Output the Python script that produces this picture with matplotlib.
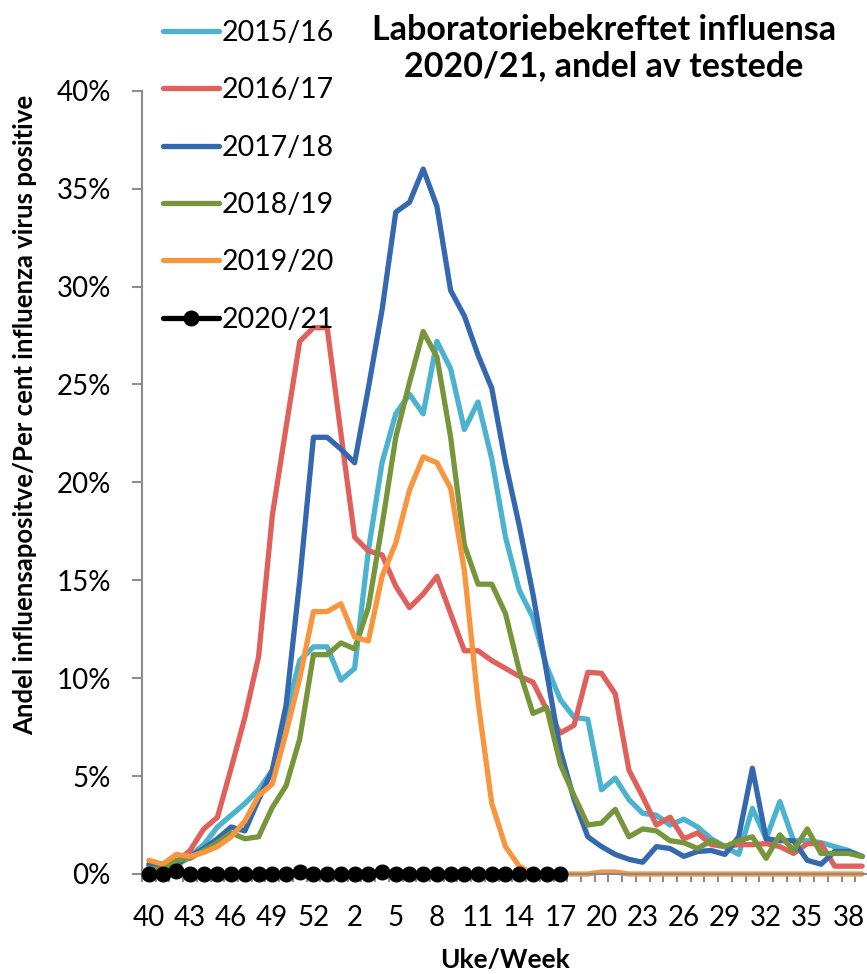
import matplotlib
matplotlib.use("Agg")
import matplotlib.pyplot as plt
from matplotlib.ticker import FixedLocator, FuncFormatter

weeks = list(range(40, 54)) + list(range(1, 40))
tick_weeks = [40, 43, 46, 49, 52, 2, 5, 8, 11, 14, 17, 20, 23, 26, 29, 32, 35, 38]
season_labels = ["2015/16", "2016/17", "2017/18", "2018/19", "2019/20", "2020/21"]
season_colors = ["#4BB2CF", "#E0605C", "#3469B0", "#77963B", "#F7963F", "#000000"]

s2015 = [0.4, 0.3, 0.4, 0.9, 1.5, 2.4, 3.0, 3.6, 4.3, 5.3, 8.2, 10.9, 11.6, 11.6, 9.9, 10.5,
         16.5, 21.0, 23.5, 24.5, 23.5, 27.2, 25.8, 22.7, 24.1, 21.2, 17.2, 14.5, 13.1, 10.6,
         8.9, 8.0, 7.9, 4.3, 4.9, 3.8, 3.1, 3.0, 2.5, 2.8, 2.4, 1.8, 1.4, 1.0, 3.35, 1.8,
         3.7, 1.7, 1.7, 1.6, 1.4, 1.2, 0.9]
s2016 = [0.3, 0.3, 0.6, 1.2, 2.3, 2.9, 5.4, 8.0, 11.1, 18.3, 22.8, 27.2, 27.9, 27.9, 22.5,
         17.2, 16.5, 16.3, 14.7, 13.6, 14.3, 15.2, 13.3, 11.4, 11.4, 10.9, 10.5, 10.1, 9.8,
         8.4, 7.2, 7.6, 10.3, 10.25, 9.2, 5.3, 3.95, 2.5, 2.9, 1.8, 2.1, 1.5, 1.4, 1.5, 1.5,
         1.55, 1.4, 1.05, 1.55, 1.55, 0.4, 0.4, 0.4]
s2017 = [0.5, 0.5, 0.5, 0.9, 1.3, 1.8, 2.4, 2.2, 3.8, 5.3, 8.6, 15.0, 22.3, 22.3, 21.7, 21.0,
         24.8, 28.8, 33.8, 34.3, 36.0, 34.1, 29.8, 28.5, 26.5, 24.8, 21.0, 17.8, 14.3, 10.3,
         6.3, 3.8, 1.9, 1.4, 1.0, 0.75, 0.6, 1.4, 1.3, 0.9, 1.15, 1.2, 1.0, 1.9, 5.4, 1.8,
         1.7, 1.7, 0.7, 0.5, 1.15, 1.15, 0.9]
s2018 = [0.3, 0.2, 0.7, 0.8, 1.2, 1.6, 2.1, 1.8, 1.9, 3.4, 4.5, 6.9, 11.2, 11.2, 11.8, 11.5,
         13.6, 17.8, 22.3, 25.1, 27.7, 26.4, 22.3, 16.8, 14.8, 14.8, 13.3, 10.4, 8.2, 8.5,
         5.6, 4.0, 2.5, 2.6, 3.3, 1.9, 2.3, 2.2, 1.7, 1.6, 1.3, 1.7, 1.4, 1.7, 1.9, 0.8,
         2.0, 1.2, 2.3, 1.05, 1.05, 1.05, 0.9]
s2019 = [0.7, 0.5, 1.0, 0.9, 1.1, 1.4, 1.9, 2.7, 4.0, 4.6, 7.2, 10.0, 13.4, 13.4, 13.8, 12.1,
         11.9, 15.2, 16.9, 19.6, 21.3, 21.0, 19.7, 15.5, 8.8, 3.6, 1.4, 0.4, 0.0, 0.0,
         0.0, 0.0, 0.0, 0.1, 0.1, 0.0, 0.0, 0.0, 0.0, 0.0, 0.0, 0.0, 0.0, 0.0, 0.0, 0.0,
         0.0, 0.0, 0.0, 0.0, 0.0, 0.0, 0.0]
s2020 = [0.0, 0.0, 0.15, 0.0, 0.0, 0.0, 0.0, 0.0, 0.0, 0.0, 0.0, 0.1, 0.0, 0.0, 0.0, 0.0,
         0.0, 0.1, 0.0, 0.0, 0.0, 0.0, 0.0, 0.0, 0.0, 0.0, 0.0, 0.0, 0.0, 0.0, 0.0]

series = [s2015, s2016, s2017, s2018, s2019, s2020]

W, H = 867, 974
fig = plt.figure(figsize=(W / 100, H / 100), dpi=100)
ax = fig.add_axes([142 / W, 100 / H, (869 - 142) / W, (874 - 90.7) / H])

gray = "#8C8C8C"
handles = []
for vals, lab, col in zip(series, season_labels, season_colors):
    x = list(range(len(vals)))
    if lab == "2020/21":
        h, = ax.plot(x, vals, color=col, lw=3.8, marker="o", ms=10.5, clip_on=False,
                     solid_capstyle="round", zorder=5, label=lab)
    else:
        h, = ax.plot(x, vals, color=col, lw=3.8, clip_on=False, solid_capstyle="round",
                     solid_joinstyle="round", label=lab)
    handles.append(h)

ax.set_xlim(-0.5, len(weeks) - 0.5)
ax.set_ylim(0, 40)

tick_idx = [weeks.index(w) for w in tick_weeks]
ax.xaxis.set_major_locator(FixedLocator(tick_idx))
ax.xaxis.set_major_formatter(FuncFormatter(lambda v, p: str(weeks[int(round(v))])))
ax.xaxis.set_minor_locator(FixedLocator([i + 0.5 for i in range(-1, len(weeks))]))
ax.tick_params(axis="x", which="minor", length=6, width=1.5, color=gray, direction="out")
ax.tick_params(axis="x", which="major", length=0, pad=22.5, labelsize=20,
               labelfontfamily="Lato")

ax.yaxis.set_major_locator(FixedLocator(range(0, 41, 5)))
ax.yaxis.set_major_formatter(FuncFormatter(lambda v, p: f"{int(v)}%"))
ax.tick_params(axis="y", length=7.5, width=1.5, color=gray, direction="out", pad=15,
               labelsize=20, labelfontfamily="Lato")

for sp in ["top", "right"]:
    ax.spines[sp].set_visible(False)
for sp in ["left", "bottom"]:
    ax.spines[sp].set_color(gray)
    ax.spines[sp].set_linewidth(1.5)

fig.text(604 / W, 1 - 48 / H, "Laboratoriebekreftet influensa\n2020/21, andel av testede",
         ha="center", va="center", fontsize=24.5, fontweight="bold", family="Lato",
         linespacing=1.12)

fig.text(25 / W, 1 - 415 / H, "Andel influensapositve/Per cent influenza virus positive",
         rotation=90, ha="center", va="center", fontsize=18.5, fontweight="bold", family="Lato")
fig.text(505 / W, 1 - 960 / H, "Uke/Week", ha="center", va="center", fontsize=19,
         fontweight="bold", family="Lato")

leg = fig.legend(handles=handles, labels=season_labels, loc="upper left",
                 bbox_to_anchor=(163 / W, 1 - 20 / H), frameon=False,
                 prop={"family": "Lato", "size": 20.5}, handlelength=1.95,
                 handletextpad=0.12, labelspacing=1.1, borderpad=0, borderaxespad=0)

fig.savefig("out.png", dpi=100)
